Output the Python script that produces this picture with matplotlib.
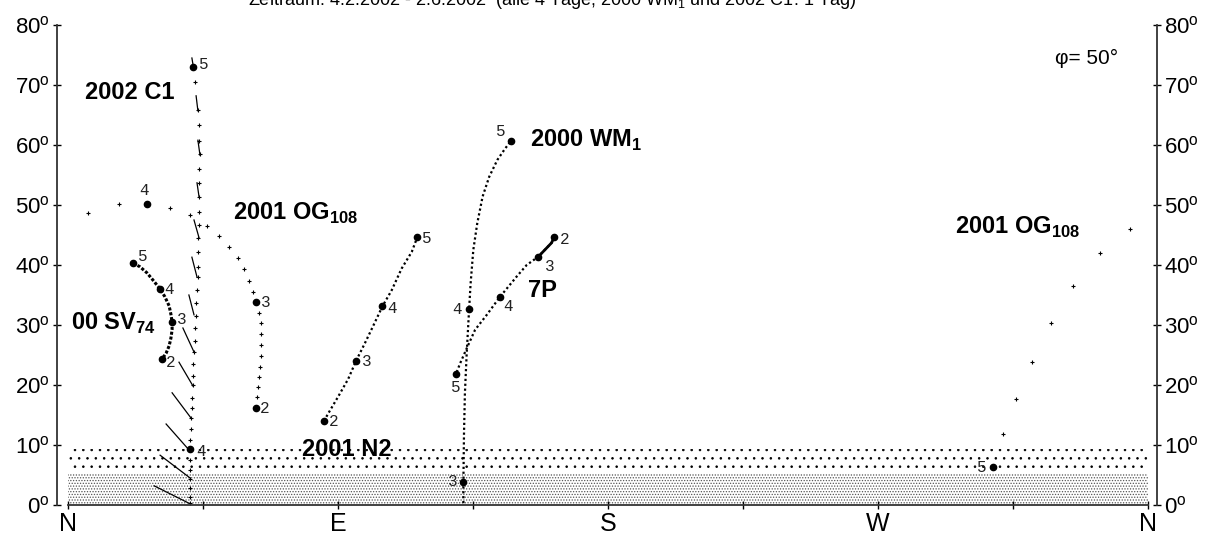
import matplotlib
matplotlib.use("Agg")
import matplotlib.pyplot as plt

plt.rcParams['font.family'] = ['Liberation Sans', 'DejaVu Sans']
plt.rcParams['hatch.linewidth'] = 0.6

# azimuth counted N=0, E=90, S=180, W=270; altitude in degrees
c1_az = [41.7, 42.3, 43.3, 43.7, 43.7, 44.0, 43.7, 43.7, 43.7, 43.7, 43.7, 43.3,
         43.3, 43.3, 43.3, 43.0, 42.7, 42.7, 42.3, 42.3, 42.0, 41.7, 41.7, 41.7,
         41.3, 41.3, 41.0, 41.0, 40.7, 40.7, 40.7, 40.7, 40.7, 40.7, 40.7, 40.7]
c1_alt = [73.0, 70.5, 65.8, 63.3, 60.7, 58.5, 56.0, 53.7, 51.3, 48.8, 46.7, 44.5,
          42.2, 39.7, 38.0, 35.8, 33.7, 31.5, 29.5, 27.3, 25.5, 23.5, 21.5, 20.0,
          17.8, 16.2, 14.5, 12.7, 10.8, 9.3, 7.5, 5.8, 4.3, 2.8, 1.3, 0.3]
# tail of 2002 C1: from head (az, alt) to tail end (az, alt)
tail_head_az = [40.3, 40.7, 40.3, 41.0, 41.7, 42.0, 42.0, 43.0, 43.7, 43.7, 44.0, 43.3, 41.7]
tail_head_alt = [0.3, 4.5, 9.2, 14.5, 19.8, 25.5, 31.7, 38.0, 44.5, 51.3, 58.3, 65.7, 73.3]
tail_end_az = [28.7, 30.7, 32.7, 34.7, 37.0, 38.3, 40.3, 41.3, 42.0, 43.0, 43.3, 42.7, 41.3]
tail_end_alt = [3.2, 8.3, 13.5, 18.7, 23.8, 29.5, 35.0, 41.3, 47.5, 53.7, 60.8, 68.2, 74.5]

og_az = [62.7, 63.0, 63.3, 63.7, 64.0, 64.3, 64.3, 64.3, 64.3, 63.7, 62.7, 61.7,
         60.3, 58.7, 56.7, 53.7, 50.3, 46.3, 40.7, 34.0, 26.3, 17.0, 6.7,
         354.0, 344.0, 335.0, 327.7, 321.3, 316.0, 311.7, 308.3]
og_alt = [16.2, 18.0, 19.7, 21.3, 23.0, 24.8, 26.7, 28.5, 30.3, 32.0, 33.8, 35.5,
          37.3, 39.3, 41.2, 43.0, 44.8, 46.5, 48.3, 49.5, 50.2, 50.2, 48.7,
          46.0, 42.0, 36.5, 30.3, 23.8, 17.7, 11.8, 6.3]

sv_az = [21.7, 24.0, 26.3, 28.3, 30.7, 32.3, 33.7, 34.3, 34.7, 34.7, 34.3, 33.7, 32.7, 31.3]
sv_alt = [40.3, 39.7, 38.7, 37.5, 36.0, 34.7, 33.2, 31.8, 30.5, 29.2, 27.8, 26.5, 25.3, 24.3]

n2_az = [85.3, 86.8, 90.1, 93.4, 96.0, 98.8, 101.4, 104.8, 107.9, 111.2, 114.6, 116.4]
n2_alt = [14.0, 15.3, 18.1, 21.0, 24.0, 26.8, 29.5, 33.1, 35.8, 39.4, 42.2, 44.6]

wm_az = [131.8, 131.8, 132.0, 132.3, 132.9, 133.7, 134.2, 135.1, 136.4, 138.2,
         140.4, 143.1, 145.7, 147.7]
wm_alt = [0.3, 3.9, 11.9, 18.6, 25.3, 32.6, 36.9, 42.5, 46.9, 51.4, 54.7, 57.5, 59.4, 60.7]

p7_az = [162.0, 161.2, 156.8, 152.9, 149.6, 146.8, 144.0, 139.6, 135.7, 132.9, 130.7, 129.3]
p7_alt = [44.6, 43.7, 41.4, 40.0, 38.1, 36.4, 34.7, 31.7, 29.2, 26.1, 23.6, 21.8]

# month marks (2 = Feb ... 5 = May)
mark_az = [41.7, 40.7, 62.7, 62.7, 26.3, 308.3, 21.7, 30.7, 34.7, 31.3,
           85.3, 96.0, 104.8, 116.4, 131.8, 133.7, 147.7, 162.0, 156.8, 144.0, 129.3]
mark_alt = [73.0, 9.3, 16.2, 33.8, 50.2, 6.3, 40.3, 36.0, 30.5, 24.3,
            14.0, 24.0, 33.1, 44.6, 3.9, 32.6, 60.7, 44.6, 41.4, 34.7, 21.8]
mark_month = ['5', '4', '2', '3', '4', '5', '5', '4', '3', '2',
              '2', '3', '4', '5', '3', '4', '5', '2', '3', '4', '5']
mark_offset = [(11, 2), (11, -2), (9, -1), (10, 0), (-3, 13), (-11, 0),
               (10, 7), (9, 0), (10, 3), (9, -3),
               (10, 0), (11, -1), (10, -2), (10, -1),
               (-11, 0), (-12, 0), (-10, 9),
               (11, -2), (11, -10), (8, -10), (0, -13)]

horizon_low = 5.3
horizon_high = 9.3

az_ticks = [0, 45, 90, 135, 180, 225, 270, 315, 360]
az_labels = ['N', '', 'E', '', 'S', '', 'W', '', 'N']
alt_ticks = [0, 10, 20, 30, 40, 50, 60, 70, 80]

fig = plt.figure(figsize=(12.15, 5.36), dpi=100)
ax = fig.add_axes([68 / 1215, 31 / 536, 1080 / 1215, 480 / 536])
ax.set_xlim(0, 360)
ax.set_ylim(0, 80)

# horizon haze bands
ax.fill_between([0, 360], 0, horizon_high, facecolor='white', edgecolor='black',
                hatch='..', linewidth=0, zorder=0)
ax.fill_between([0, 360], 0, horizon_low, facecolor='white', edgecolor='#555555',
                hatch='......', linewidth=0, zorder=0)

ms_plus = dict(marker='+', markersize=3.5, markeredgewidth=0.8, color='black', linestyle='none')
ax.plot(c1_az, c1_alt, **ms_plus)
for x0, y0, x1, y1 in zip(tail_head_az, tail_head_alt, tail_end_az, tail_end_alt):
    ax.plot([x0, x1], [y0, y1], color='black', lw=0.9)
ax.plot(og_az, og_alt, **ms_plus)

ax.plot(sv_az, sv_alt, color='black', lw=2.2, linestyle=(0, (1, 0.6)))
ax.plot(n2_az, n2_alt, color='black', lw=1.6, linestyle=(0, (1, 1.2)))
ax.plot(wm_az, wm_alt, color='black', lw=1.6, linestyle=(0, (1, 1.2)))
ax.plot(p7_az, p7_alt, color='black', lw=1.6, linestyle=(0, (1, 1.2)))
ax.plot(p7_az[:3], p7_alt[:3], color='black', lw=2.0)

ax.plot(mark_az, mark_alt, 'o', color='black', markersize=4.5)
for x, y, m, off in zip(mark_az, mark_alt, mark_month, mark_offset):
    ax.annotate(m, (x, y), xytext=off, textcoords='offset pixels', ha='center',
                va='center', fontsize=11.5, family='Liberation Mono', color='#222222')

bold = dict(fontsize=17, fontweight='bold', ha='left', va='center')
ax.text(5.7, 68.8, '2002 C1', **bold)
ax.text(55.0, 48.6, '2001 OG$_{\\mathregular{108}}$', **bold)
ax.text(1.0, 30.3, '00 SV$_{\\mathregular{74}}$', **bold)
ax.text(78.0, 9.2, '2001 N2', **bold)
ax.text(154.0, 60.8, '2000 WM$_{\\mathregular{1}}$', **bold)
ax.text(153.3, 35.8, '7P', **bold)
ax.text(295.7, 46.2, '2001 OG$_{\\mathregular{108}}$', **bold)
ax.text(329.0, 74.5, 'φ= 50°', fontsize=15, ha='left', va='center')

fig.text(248 / 1215, 1 - 5 / 536,
         'Zeitraum: 4.2.2002 - 2.6.2002  (alle 4 Tage; 2000 WM$_{\\mathregular{1}}$ und 2002 C1: 1 Tag)',
         fontsize=13, ha='left', va='baseline')

ax.spines['top'].set_visible(False)
ax.spines['left'].set_position(('outward', 8))
ax.spines['right'].set_position(('outward', 6.5))
for s in ['left', 'right', 'bottom']:
    ax.spines[s].set_linewidth(1.3)
    ax.spines[s].set_color('#333333')

ax.set_xticks(az_ticks)
ax.set_xticklabels(az_labels, fontsize=18)
ax.set_yticks(alt_ticks)
ax.set_yticklabels([f'{v}$^{{\\mathregular{{o}}}}$' for v in alt_ticks], fontsize=16)
ax.tick_params(axis='x', direction='inout', length=6, width=1, pad=2)
ax.tick_params(axis='y', direction='inout', length=6, width=1, pad=2,
               right=True, labelright=True)

fig.savefig('out.png', dpi=100)
